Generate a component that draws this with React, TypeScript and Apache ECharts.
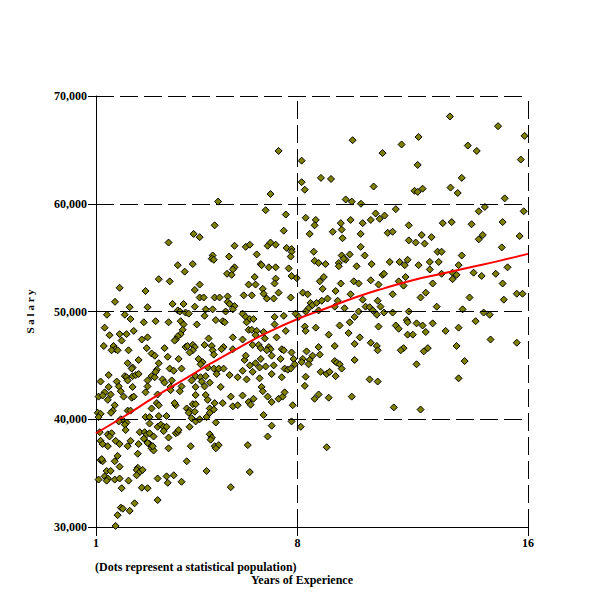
import React, { useEffect, useRef } from "react";
import * as echarts from "echarts";

// Points: [years of experience, salary]
const earlyUpper: number[][] = [
  [5.05,55200],[5.02,54900],[5.09,54800],[5.62,55100],[3.84,54300],[4.36,54400],[4.08,53700],[5.81,54100],[5.75,53900],[5.55,53500],[5.71,53400],[3.18,53000],[3.56,52800],[4.60,52500],[1.82,52200],[2.72,51900],[4.43,52000],[4.60,51300],[4.74,51300],[5.57,51400],[5.12,51300],[5.29,51300],[1.66,50900],[3.66,50700],[4.04,50700],[5.57,50900],[5.64,50700],[2.17,50400],[2.79,50400],[4.43,50450],[5.81,50500],[1.38,49700],[2.00,49700],[2.20,49300],[3.84,50100],[3.91,50000],[4.11,49900],[4.22,49800],[4.81,50200],[5.05,50200],[5.50,50000],[5.75,50200],[4.77,49600],[5.16,49200],[5.40,49100],[5.47,49000],[2.66,49000],[3.07,49100],[3.52,49000],[3.94,49100],[4.04,48800],[4.50,48800],[1.30,48500],[2.31,48200],[4.01,48300],[3.94,47900],[3.84,47700],[3.77,47400],[3.73,47300],[1.47,47800],[1.82,47900],[2.06,47900],[2.59,47400],[2.79,47600],[1.89,47300],[4.91,47500],[5.75,47600],[1.27,46800],[1.61,46800],[1.68,46500],[1.54,46400],[1.75,46400],[2.13,46400],[2.76,46600],[3.38,46600],[4.11,46700],[4.18,46800],[4.36,46900],[4.43,46700],[4.36,46400],[4.25,46200],[4.77,46900],[5.02,46800],[5.05,46400],[5.09,46000],[5.43,46700],[5.36,46500],[5.75,46500],[2.93,46100],[3.04,45900],[3.49,45800],[3.87,45600],[2.48,45500],[4.56,45600],[4.70,45300],[4.63,45100],[2.10,45200],[2.27,44800],[2.24,44700],[3.18,45200],[3.56,44700],[3.70,44500],[3.97,44700],[4.88,44800],[5.09,44700],[5.26,44700],[5.43,44700],[3.11,44600],[1.44,44100],[2.00,44000],[2.06,43900],[2.27,44000],[2.38,44100],[2.48,44200],[2.93,44000],[3.04,43900],[3.07,44400],[4.46,44000],[4.63,43900],[4.81,44000],[5.19,44200],[5.64,44100],[5.92,43900],[1.16,43500],[1.72,43500],[2.10,43600],[2.79,43600],[3.31,43700],[3.38,43400],[3.63,43600],[4.32,43600],[4.67,43500],[4.95,43400],[1.44,43000],[1.79,43050],[2.27,43000],[2.79,43050],[3.59,43000],[3.97,43050],[4.46,43000],[4.77,43050],[5.33,43000],
  [4.39,57200],[4.60,56900],[3.52,56400],[5.24,60200],[5.12,58000],[5.81,56100]
];

const earlyLower: number[][] = [
  [1.30,42500],[1.51,42300],[1.86,42600],[1.96,42100],[2.24,42000],[2.31,42100],[2.72,42500],[3.14,42300],[3.59,42700],[3.77,41300],[3.73,41500],[3.91,42600],[4.46,42250],[4.81,42250],[4.88,41800],[5.12,41500],[5.40,41500],[5.68,42100],[5.75,41200],[5.92,41300],[1.09,42100],[1.23,42200],[1.41,41800],[1.65,41300],[1.58,40800],[1.52,40600],[1.06,40600],[1.16,40500],[1.09,40200],[2.10,40800],[2.20,40800],[3.11,41500],[3.18,41300],[2.93,41000],[3.18,40300],[3.45,40300],[4.15,41000],[4.25,40800],[4.36,41400],[4.46,41400],[4.22,40600],[4.32,40100],[4.43,40700],[4.46,39800],[4.95,41000],[5.09,40900],[4.95,40600],[4.84,40200],[5.16,39700],[2.72,40200],[2.86,40200],[1.86,40000],[1.93,39900],[2.06,39700],[2.00,39500],[1.79,39800],[2.03,39000],[2.86,39600],[3.14,39300],[3.25,39500],[3.35,39300],[3.45,39300],[3.35,38900],[4.25,39300],[4.60,40000],[2.52,38800],[2.69,38800],[2.76,38600],[2.86,38700],[2.66,38200],[2.86,37700],[2.79,37800],[3.00,38400],[2.93,37300],[3.00,37100],[2.97,37500],[3.77,38700],[3.84,38800],[3.87,39000],[1.13,38800],[1.41,38600],[1.54,38700],[1.47,38400],[1.68,38000],[1.82,37700],[2.10,37500],[2.20,38000],[2.48,37700],[1.16,38000],[1.23,37700],[1.41,37500],[3.52,38300],[3.52,37300],[4.29,37500],[4.95,38600],[5.02,38300],[4.98,38100],[5.12,37500],[5.26,37600],[5.16,37300],[2.45,36800],[1.75,36600],[1.16,36200],[1.23,36100],[1.20,36300],[1.65,36100],[1.82,35600],[4.15,36100],[4.84,35200],[2.45,35500],[2.41,35300],[2.52,35100],[2.62,35300],[2.41,34800],[1.37,35200],[1.51,35200],[1.30,34700],[1.41,34500],[1.37,34300],[1.65,34400],[1.82,34500],[1.09,34400],[2.13,34300],[3.14,34500],[3.45,34700],[3.49,34100],[3.70,34800],[3.97,34200],[5.68,33700],[1.89,33600],[2.59,33650],[2.79,33600],[3.14,32500],[2.34,32200],[1.86,31800],[1.93,31700],[2.17,31500],[1.75,31100],[1.68,30100]
];

const midCareer: number[][] = [
  [7.34,64900],[8.14,64000],[8.14,62000],[8.25,61300],[7.06,60900],[6.89,59400],[7.59,59000],[8.28,58700],[7.52,57500],[8.42,57200],[6.20,56000],[6.34,56200],[6.96,56100],[7.06,56400],[7.24,56200],[7.62,55900],[7.79,55800],
  [6.58,55300],[7.79,55550],[7.76,55100],[8.56,55550],[9.53,55200],[9.81,55300],[10.33,55200],[6.72,54400],[6.75,54300],[7.00,54100],[7.24,54100],[7.69,54000],[8.59,54700],[8.73,54500],[8.97,54400],[9.43,54500],[9.67,54800],[9.60,54900],[9.43,54200],[10.05,54200],[10.57,54400],[6.51,53200],[6.30,52500],[6.54,52500],[7.24,53050],[7.20,52600],[7.79,53300],[7.97,53100],[8.91,53200],[8.77,52800],[9.95,52800],[10.12,52600],[10.54,52900],[10.81,52500],[10.95,53400],[9.50,52600],[6.79,52100],[6.82,51650],[7.34,51750],[6.13,51500],[6.41,51500],[6.93,51200],[7.17,51200],[7.76,51300],[8.18,51750],[8.35,51600],[8.87,52100],[9.32,51900],[9.84,51600],[10.26,51100],[10.78,51000],[8.45,50800],[8.52,50600],[8.38,50300],[8.66,50800],[8.84,51000],[9.04,51200],[9.39,51000],[8.28,50000],[8.73,50100],[9.29,50450],[9.63,50300],[10.12,50000],[10.36,50450],[10.50,50400],[10.61,50100],[10.88,50450],[6.09,49800],[6.20,49500],[6.34,49300],[6.47,49300],[7.20,49500],[7.52,49600],[7.93,49800],[8.04,49500],[6.23,49000],[9.98,49500],[9.81,49000],[10.75,49700],[7.20,48800],[7.59,48200],[8.25,48600],[8.28,48200],[8.63,48500],[9.46,48700],[10.81,48600],[6.30,48300],[6.41,48300],[6.58,48200],[6.54,47800],[6.82,48100],[7.27,47600],[6.86,47500],[6.09,47400],[9.77,48000],[9.08,47850],[10.16,47600],[6.44,46900],[6.65,46900],[6.72,46600],[7.00,46700],[7.06,46500],[7.45,46500],[7.52,46400],[6.93,46400],[8.73,46700],[7.79,46200],[8.31,46300],[8.52,45900],[8.42,45500],[8.18,45600],[9.29,46800],[9.98,47000],[10.54,47100],[10.75,46800],[10.78,46400],[7.10,45900],[7.41,45600],[6.72,45600],[6.16,45500],[6.20,45900],[7.86,45600],[8.77,46000],[9.29,45400],[9.36,45250],[9.46,45100],[9.53,44700],[9.98,45500],[6.54,45200],[6.34,45000],[6.89,44900],[6.68,44800],[7.17,45000],[7.55,44700],[7.66,44600],[7.76,44700],[7.90,45100],[8.14,45300],[8.38,45100],[6.09,44500],[6.44,44400],[7.10,44200],[8.80,44400],[9.01,44200],[9.11,44400],[9.32,44000],[8.28,43950],[7.45,43900],[6.68,43800],[6.23,43700],[6.75,43000],[8.25,43100],[10.50,43700],[10.78,43500],
  [6.09,42200],[6.30,41600],[6.37,41350],[6.47,41900],[6.79,42600],[6.96,42100],[7.10,41600],[7.34,41900],[7.48,42100],[7.55,42500],[7.83,41300],[8.59,41900],[8.73,42300],[9.08,42000],[9.88,42100],[6.82,40400],[7.10,39400],[7.79,39800],[8.11,39300],[6.96,38400],[6.27,37600],[9.01,37400],[6.34,35100]
];

const lateCareer: number[][] = [
  [13.29,68100],[14.96,67200],[15.88,66300],[9.91,65900],[12.20,66200],[11.61,65500],[13.91,65400],[14.22,64900],[10.95,64700],[15.75,64100],[12.17,63600],[8.81,62400],[9.16,62300],[13.70,62400],[10.64,61600],[12.06,61200],[12.17,61100],[12.34,61400],[13.31,61500],[13.56,61000],[15.19,60500],[9.67,60400],[9.88,60200],[10.20,60000],[11.41,59500],[14.50,59700],[14.29,59300],[15.85,59300],[8.63,58500],[8.59,58000],[9.50,58200],[9.53,57600],[9.56,56800],[9.84,58500],[10.26,58200],[10.54,58500],[10.71,59100],[10.85,58600],[11.02,58900],[9.22,57400],[10.19,57200],[11.13,57300],[11.30,57400],[11.86,58000],[13.04,58200],[13.35,58300],[14.04,58100],[15.12,58300],[12.31,57100],[12.65,56900],[11.86,56600],[12.10,56400],[12.41,56300],[14.43,57100],[14.29,56700],[15.71,57000],[10.19,56000],[15.09,55950],
  [12.86,55550],[13.00,55550],[13.70,55200],[11.20,54600],[11.54,54600],[11.72,54300],[11.82,54800],[12.20,54300],[12.59,54600],[12.90,54600],[13.59,54300],[12.59,53900],[11.00,53500],[11.75,53200],[13.00,53500],[13.38,53600],[13.52,53400],[14.11,53600],[14.39,53300],[14.88,53500],[15.29,54100],[11.51,52800],[11.68,52400],[12.69,52600],[13.38,53000],[15.12,52600],[11.30,51600],[12.27,51300],[12.45,51750],[13.97,51300],[15.16,51100],[15.61,51650],[15.81,51650],[12.83,50450],[13.73,50200],[11.30,49900],[11.86,50000],[11.00,49900],[14.46,49900],[14.67,49700],[14.18,49100],[11.79,49200],[11.82,49000],[12.13,48900],[12.34,48700],[12.69,48900],[11.41,48700],[11.51,48400],[12.45,48100],[13.14,48200],[13.59,48500],[11.82,47850],[12.00,47850],[14.70,47400],[15.61,47100],[13.52,46800],[11.68,46600],[11.58,46400],[12.52,46600],[12.38,46300],[13.80,45400],[12.13,45100],[13.59,43800],[11.34,41100],[12.27,40900]
];

// Trend curve
const trendYears = [1, 2, 3, 4, 5, 6, 7, 8, 9, 10, 11, 12, 13, 14, 15, 16];
const trendSalary = [38700, 40300, 42000, 43600, 45200, 46700, 48100, 49300, 50300, 51300, 52150, 52900, 53500, 54100, 54700, 55350];

const xTickValues = [1, 8, 16];
const yGridValues = [40000, 50000, 60000, 70000];
const xGridValues = [8, 16];

const FONT = "'Liberation Serif', 'Times New Roman', serif";

export default function App() {
  const ref = useRef<HTMLDivElement>(null);
  useEffect(() => {
    if (!ref.current) return;
    const chart = echarts.init(ref.current, null, { renderer: "svg" });
    const dash = [18, 6];
    const points = [...earlyUpper, ...earlyLower, ...midCareer, ...lateCareer];
    chart.setOption({
      animation: false,
      backgroundColor: "#fff",
      grid: { left: 96, right: 72, top: 96, bottom: 73 },
      xAxis: {
        type: "value",
        min: 1,
        max: 16,
        axisLine: { show: true, lineStyle: { color: "#000", width: 1 } },
        axisTick: { show: true, customValues: xTickValues, length: 9, lineStyle: { color: "#000" } },
        axisLabel: {
          customValues: xTickValues,
          margin: 10,
          color: "#000",
          fontFamily: FONT,
          fontWeight: "bold",
          fontSize: 12,
        },
        splitLine: { show: false },
      },
      yAxis: {
        type: "value",
        min: 30000,
        max: 70000,
        interval: 10000,
        name: "S a l a r y",
        nameLocation: "middle",
        nameRotate: 90,
        nameGap: 61,
        nameTextStyle: { color: "#000", fontFamily: FONT, fontWeight: "bold", fontSize: 11 },
        axisLine: { show: true, lineStyle: { color: "#000", width: 1 } },
        axisTick: { show: true, length: 8, lineStyle: { color: "#000" } },
        axisLabel: {
          margin: 9,
          color: "#000",
          fontFamily: FONT,
          fontWeight: "bold",
          fontSize: 12,
          formatter: (v: number) => v.toLocaleString("en-US"),
        },
        splitLine: { show: false },
      },
      graphic: [
        {
          type: "text",
          left: 95,
          top: 561,
          style: { text: "(Dots represent a statistical population)", fill: "#000", font: `bold 12px ${FONT}` },
        },
        {
          type: "text",
          x: 302,
          y: 580,
          style: { text: "Years of Experience", fill: "#000", font: `bold 12px ${FONT}`, align: "center", verticalAlign: "middle" },
        },
      ],
      series: [
        {
          type: "scatter",
          data: [],
          z: 1,
          silent: true,
          markLine: {
            silent: true,
            symbol: ["none", "none"],
            label: { show: false },
            lineStyle: { color: "#000", type: dash, width: 1 },
            emphasis: { disabled: true },
            data: [
              ...xGridValues.map((v) => ({ xAxis: v })),
              ...yGridValues.map((v) => ({ yAxis: v })),
            ],
          },
        },
        {
          type: "scatter",
          data: points,
          z: 2,
          symbol: "diamond",
          symbolSize: 7,
          itemStyle: { color: "#808000", borderColor: "#000", borderWidth: 1, opacity: 1 },
        },
        {
          type: "line",
          data: trendYears.map((x, i) => [x, trendSalary[i]]),
          z: 3,
          smooth: true,
          showSymbol: false,
          lineStyle: { color: "#ff0000", width: 2 },
        },
      ],
    });
    return () => chart.dispose();
  }, []);
  return <div ref={ref} style={{ position: "absolute", left: 0, top: 0, width: 600, height: 600, background: "#fff" }} />;
}
